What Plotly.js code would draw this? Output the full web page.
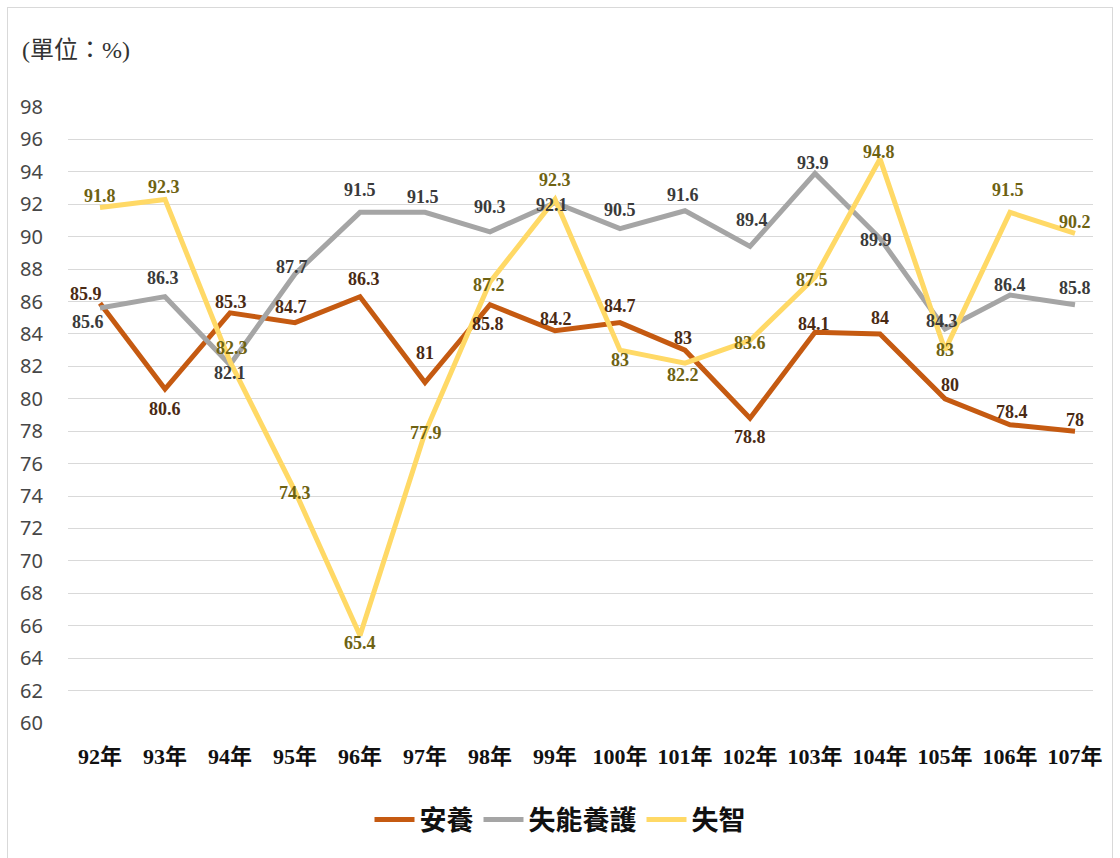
<!DOCTYPE html>
<html>
<head>
<meta charset="utf-8">
<script src="https://cdn.plot.ly/plotly-3.0.1.min.js"></script>
<style>
  html, body { margin: 0; padding: 0; background: #ffffff; overflow: hidden; }
  #chart { position: absolute; left: 0; top: 0; width: 1120px; height: 858px; }
  #frame { position: absolute; left: 7px; top: 7px; width: 1104px; height: 900px;
           border: 1px solid #d9d9d9; pointer-events: none; }
</style>
</head>
<body>
<div id="chart"></div>
<div id="frame"></div>
<script>
// ---- data ----
const years = ["92年","93年","94年","95年","96年","97年","98年","99年","100年","101年","102年","103年","104年","105年","106年","107年"];
const seriesNames = ["安養", "失能養護", "失智"];
const anyang   = [85.9, 80.6, 85.3, 84.7, 86.3, 81, 85.8, 84.2, 84.7, 83, 78.8, 84.1, 84, 80, 78.4, 78];
const shineng  = [85.6, 86.3, 82.1, 87.7, 91.5, 91.5, 90.3, 92.1, 90.5, 91.6, 89.4, 93.9, 89.9, 84.3, 86.4, 85.8];
const shizhi   = [91.8, 92.3, 82.3, 74.3, 65.4, 77.9, 87.2, 92.3, 83, 82.2, 83.6, 87.5, 94.8, 83, 91.5, 90.2];
const unitLabel = "(單位：%)";

// ---- label placement (pixel offsets, style only) ----
const anyangDx  = [-14, 0, 1, -4, 4, 0, -2, 1, 0, -2, 0, -1, 0, 5, 2, 0];
const anyangDy  = [9, -20, 11, 16, 18, 30, -19, 12, 17, 12, -19, 8, 16, 14, 13, 11];
const shinengDx = [-12, -2, 0, -3, 0, -2, 0, -3, 0, -2, 2, -2, -4, -3, 0, 0];
const shinengDy = [-14, 19, -8, 7, 22, 15, 25, -2, 19, 16, 26, 10, -2, 8, 10, 17];
const shizhiDx  = [0, -1, 2, 0, 0, 1, -1, 0, 0, -2, 0, -3, -1, 0, -2, 0];
const shizhiDy  = [12, 12, 14, -2, -8, 0, -3, 19, -10, -12, -3, -3, 7, 0, 22, 11];

const lineColors  = ["#c55a11", "#a5a5a5", "#ffd966"];
const labelColors = ["#4a2a14", "#3a3a3a", "#6e6212"];
const allValues = [anyang, shineng, shizhi];
const allDx = [anyangDx, shinengDx, shizhiDx];
const allDy = [anyangDy, shinengDy, shizhiDy];

const serif = '"Liberation Serif", "Times New Roman", "Noto Sans CJK TC", serif';
const serifCJK = '"Liberation Serif", "Noto Sans CJK TC", serif';

const traces = allValues.map((vals, k) => ({
  type: "scatter",
  mode: "lines",
  name: seriesNames[k],
  x: years,
  y: vals,
  line: { color: lineColors[k], width: 5 },
  cliponaxis: false,
  hoverinfo: "skip"
}));

const annotations = [];
allValues.forEach((vals, k) => {
  vals.forEach((v, i) => {
    annotations.push({
      x: years[i], y: v, xref: "x", yref: "y",
      text: String(v),
      showarrow: false,
      xshift: allDx[k][i], yshift: allDy[k][i],
      font: { family: serif, size: 18, color: labelColors[k], weight: "bold" }
    });
  });
});

const layout = {
  width: 1120, height: 858,
  paper_bgcolor: "#ffffff", plot_bgcolor: "#ffffff",
  margin: { l: 68, r: 27, t: 107, b: 135 },
  title: {
    text: unitLabel,
    xref: "container", yref: "container",
    x: 22 / 1120, xanchor: "left",
    y: 1 - 50 / 858, yanchor: "middle",
    font: { family: serifCJK, size: 24, color: "#333333" }
  },
  xaxis: {
    type: "category",
    showgrid: false, zeroline: false, showline: false,
    ticks: "outside", ticklen: 14, tickcolor: "rgba(0,0,0,0)",
    tickfont: { family: serifCJK, size: 22, color: "#111111", weight: "bold" },
    fixedrange: true
  },
  yaxis: {
    range: [60, 98], dtick: 2, tick0: 60,
    showgrid: true, gridcolor: "#d9d9d9", gridwidth: 1,
    zeroline: false, showline: false,
    ticks: "outside", ticklen: 20, tickcolor: "rgba(0,0,0,0)",
    tickfont: { family: '"Noto Sans", "Open Sans", sans-serif', size: 20, color: "#474747" },
    fixedrange: true
  },
  showlegend: true,
  legend: {
    orientation: "h",
    xref: "container", yref: "container",
    x: 0.5, xanchor: "center",
    y: 1 - 820 / 858, yanchor: "middle",
    font: { family: serifCJK, size: 27, color: "#111111", weight: "bold" },
    itemwidth: 40,
    bgcolor: "rgba(0,0,0,0)"
  },
  annotations: annotations
};

Plotly.newPlot("chart", traces, layout, { displayModeBar: false, staticPlot: true });
</script>
</body>
</html>
